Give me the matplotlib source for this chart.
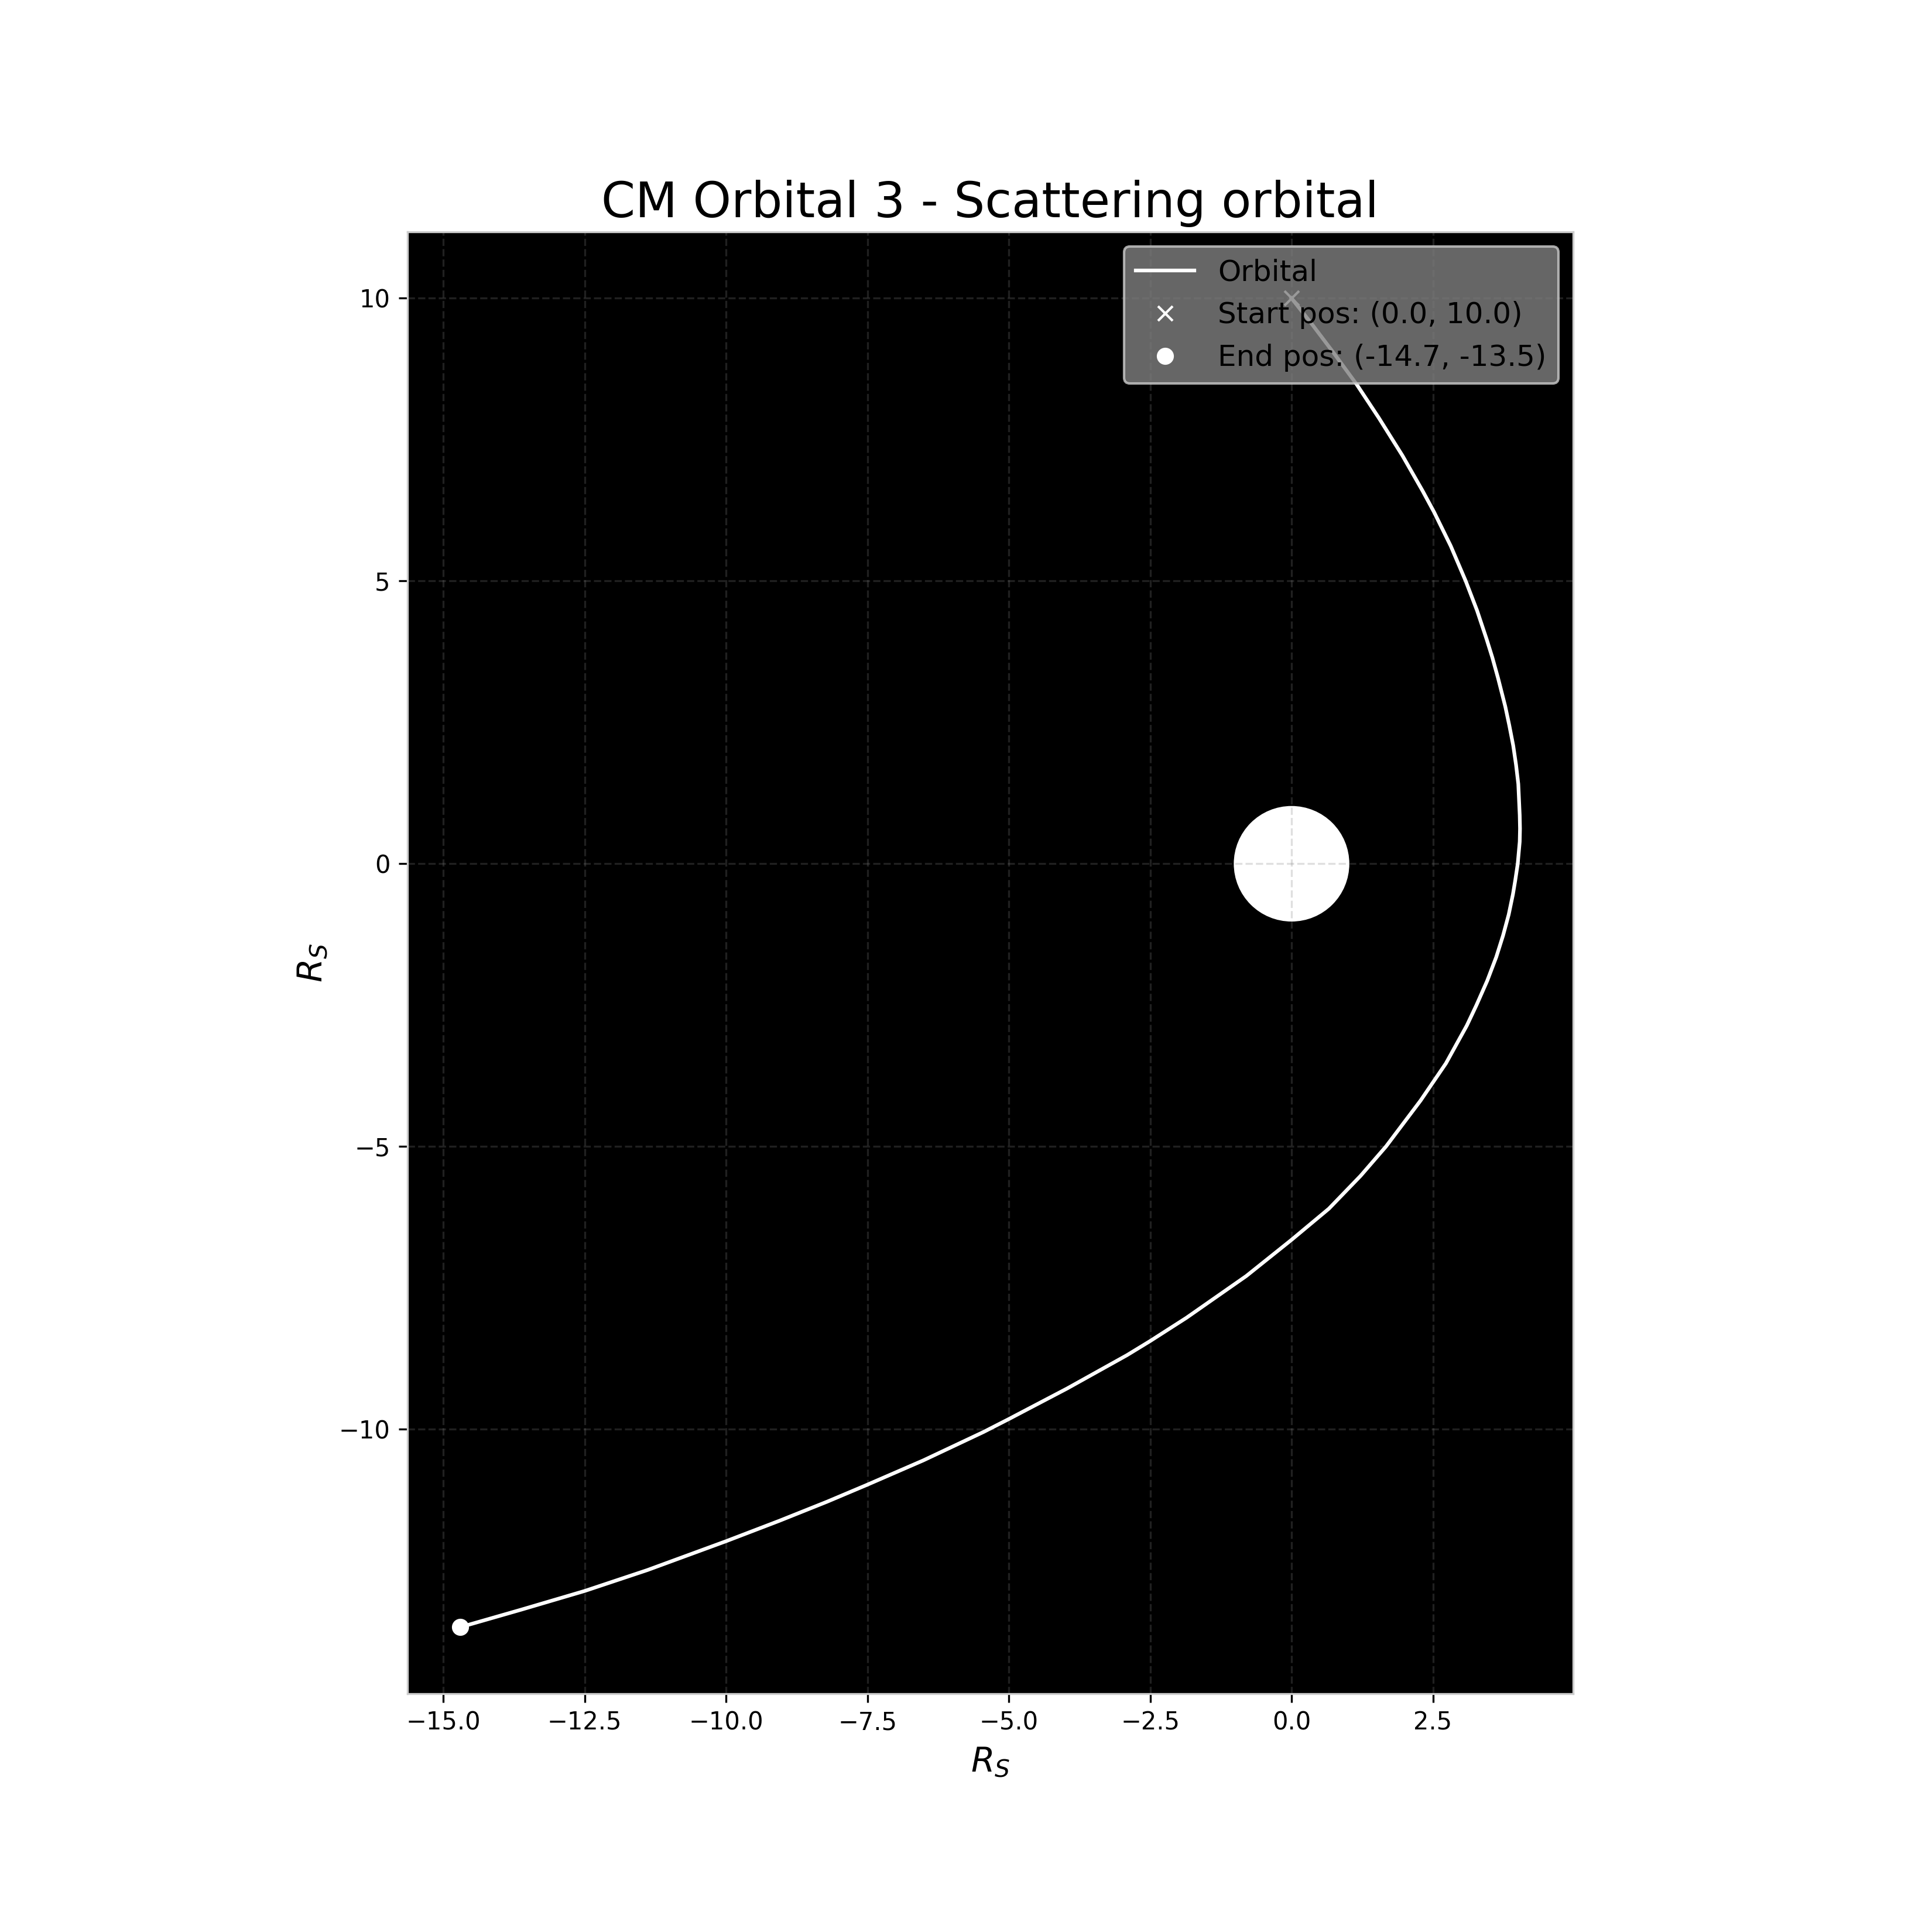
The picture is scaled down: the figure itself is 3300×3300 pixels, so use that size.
import numpy as np
import matplotlib
matplotlib.use("Agg")
from matplotlib import pyplot as plt

# Orbit points (units of Schwarzschild radius)
orbit_x = [0.00, 0.355, 0.74, 1.15, 1.54, 1.96, 2.32, 2.52, 2.815, 3.08,
           3.28, 3.45, 3.55, 3.65, 3.78, 3.85, 3.92, 3.97, 4.01, 4.035,
           4.04, 4.035, 4.00, 3.955, 3.915, 3.84, 3.74, 3.62, 3.46, 3.27,
           3.10, 2.73, 2.28, 1.67, 1.22, 0.66, 0.00, -0.80, -1.86, -2.50,
           -2.91, -3.97, -5.00, -5.45, -6.51, -7.50, -8.21, -9.06, -10.00, -11.39,
           -12.50, -13.62, -14.70]
orbit_y = [10.00, 9.55, 9.04, 8.48, 7.89, 7.22, 6.59, 6.22, 5.62, 5.00,
           4.48, 3.97, 3.65, 3.29, 2.78, 2.45, 2.09, 1.75, 1.41, 0.86,
           0.62, 0.39, 0.00, -0.30, -0.54, -0.90, -1.27, -1.65, -2.07, -2.50,
           -2.86, -3.53, -4.19, -5.00, -5.52, -6.10, -6.65, -7.29, -8.03, -8.44,
           -8.69, -9.28, -9.82, -10.05, -10.55, -10.98, -11.28, -11.62, -11.98, -12.49,
           -12.86, -13.19, -13.50]

start_pos = (0.0, 10.0)
end_pos = (-14.7, -13.5)
bh_radius = 1.0

title = "CM Orbital 3 - Scattering orbital"

fig, ax = plt.subplots(figsize=(11, 11), dpi=300)
fig.subplots_adjust(bottom=0.1234, top=0.88)
ax.set_facecolor("black")

# black hole
ax.add_patch(plt.Circle((0, 0), bh_radius, color="white"))

ax.plot(orbit_x, orbit_y, color="white", lw=1.5, label="Orbital")
ax.plot(start_pos[0], start_pos[1], "x", color="white",
        label="Start pos: (%.1f, %.1f)" % start_pos)
ax.plot(end_pos[0], end_pos[1], "o", color="white",
        label="End pos: (%.1f, %.1f)" % end_pos)

ax.set_aspect("equal")
ax.grid(True, color="gray", linestyle="--", alpha=0.25)

for sp in ax.spines.values():
    sp.set_color("#cccccc")

ax.set_title(title, fontsize=20)
ax.set_xlabel("$R_S$", fontsize=14)
ax.set_ylabel("$R_S$", fontsize=14)

ax.legend(loc="upper right", fontsize=12, facecolor="gray", labelcolor="black")

plt.savefig("out.png", dpi=300)
